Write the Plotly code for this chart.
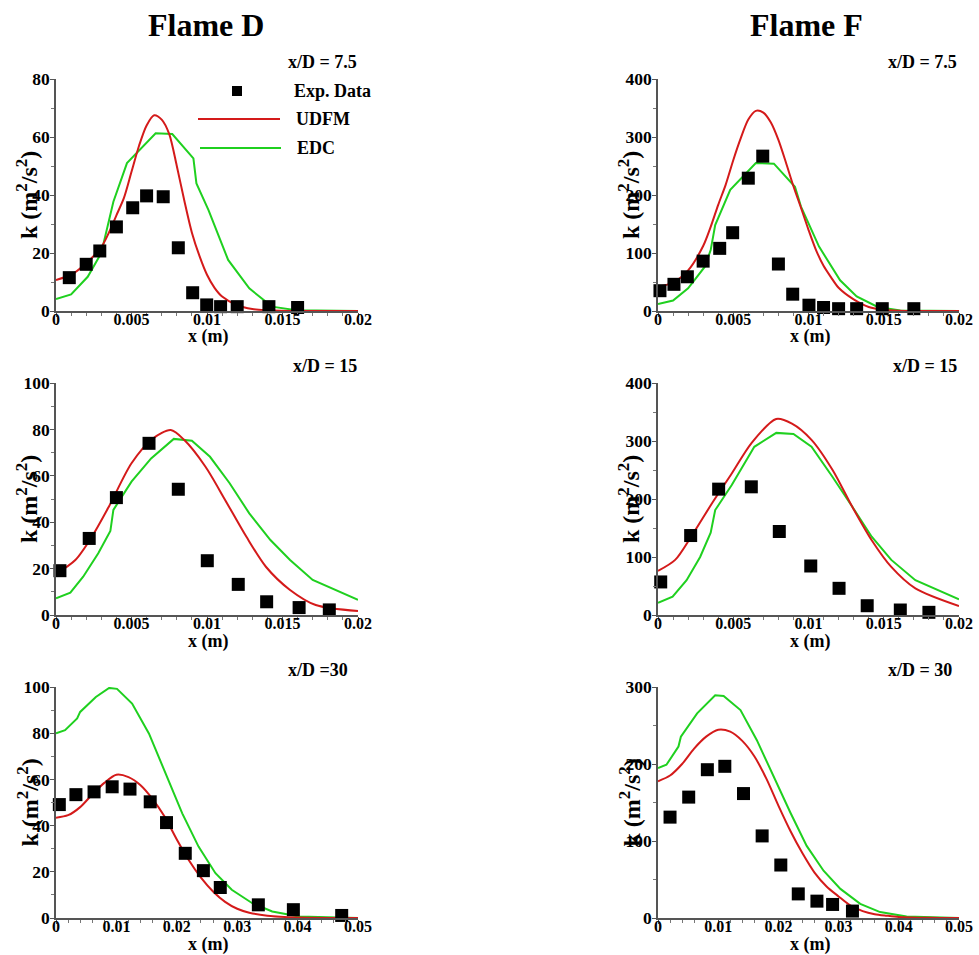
import plotly.graph_objects as go
from plotly.subplots import make_subplots

W, H = 979, 955
FONT = "Liberation Serif, Times New Roman, serif"
RED = "#d41a1a"
GREEN = "#1fd01f"

# ---------------- data ----------------
# Flame D, x/D = 7.5
d75_exp_x = [0.00088, 0.002, 0.0029, 0.004, 0.00508, 0.006, 0.0071, 0.0081, 0.00905, 0.00998, 0.0109, 0.012, 0.0141, 0.016]
d75_exp_k = [11.5, 16.1, 20.7, 29, 35.6, 39.7, 39.4, 21.8, 6.3, 2.1, 1.5, 1.5, 1.5, 1.2]
d75_udfm_x = [0, 0.001, 0.002, 0.003, 0.0035, 0.004, 0.0045, 0.005, 0.0055, 0.006, 0.0065, 0.007, 0.0075, 0.008, 0.0085, 0.009, 0.0095, 0.01, 0.0105, 0.011, 0.012, 0.013, 0.014, 0.016, 0.02]
d75_udfm_k = [10.7, 12.5, 16.5, 22, 27, 33, 39, 48, 57, 64, 67.5, 66, 61, 50, 38, 27, 19, 12.5, 8, 5, 2, 0.7, 0.3, 0, 0]
d75_edc_x = [0, 0.001, 0.0021, 0.003, 0.0038, 0.0047, 0.0066, 0.0077, 0.0091, 0.0093, 0.0101, 0.0114, 0.0128, 0.0143, 0.0159, 0.02]
d75_edc_k = [4.1, 5.7, 11.8, 20, 37.7, 51, 61.3, 61, 52.6, 44, 34.8, 17.6, 7.8, 1.5, 0.3, 0]

# Flame F, x/D = 7.5
f75_exp_x = [0.00013, 0.00106, 0.00195, 0.003, 0.0041, 0.00496, 0.006, 0.00696, 0.008, 0.00895, 0.01003, 0.011, 0.012, 0.0132, 0.0149, 0.017]
f75_exp_k = [35, 46, 59, 86, 108, 135, 229, 267, 81, 29, 10, 6, 4, 4, 4, 4]
f75_udfm_x = [0, 0.001, 0.002, 0.003, 0.0035, 0.004, 0.0045, 0.005, 0.0055, 0.006, 0.0065, 0.007, 0.0075, 0.008, 0.0085, 0.009, 0.0095, 0.01, 0.0105, 0.011, 0.0115, 0.012, 0.013, 0.014, 0.015, 0.016, 0.02]
f75_udfm_k = [42, 49, 70, 112, 145, 183, 218, 260, 298, 330, 345, 342, 325, 295, 256, 215, 178, 140, 105, 78, 58, 40, 20, 7, 2, 0.5, 0]
f75_edc_x = [0, 0.001, 0.002, 0.0031, 0.0035, 0.0038, 0.0048, 0.0065, 0.0077, 0.0091, 0.0095, 0.0107, 0.0121, 0.0132, 0.0146, 0.0161, 0.02]
f75_edc_k = [12, 18, 39, 76, 105, 148, 209, 255, 254, 214, 180, 111, 53, 25, 7, 1, 0]

# Flame D, x/D = 15
d15_exp_x = [0.00026, 0.0022, 0.004, 0.00616, 0.0081, 0.01002, 0.01207, 0.01395, 0.0161, 0.0181]
d15_exp_k = [19.1, 33, 50.6, 74, 54.2, 23.4, 13.2, 5.7, 3.2, 2.2]
d15_udfm_x = [0, 0.00128, 0.00238, 0.0035, 0.005, 0.0064, 0.0076, 0.0085, 0.0099, 0.0112, 0.0126, 0.0139, 0.0155, 0.0172, 0.02]
d15_udfm_k = [17.7, 23.7, 33.8, 46.7, 65.4, 76, 79.7, 75.4, 63.9, 49.6, 33.8, 20.8, 10.8, 4.3, 1.7]
d15_edc_x = [0, 0.00095, 0.0018, 0.0028, 0.0036, 0.0038, 0.005, 0.0063, 0.0078, 0.009, 0.0102, 0.0115, 0.0128, 0.0142, 0.0155, 0.017, 0.02]
d15_edc_k = [7.2, 9.6, 16.5, 26.6, 36.2, 45.3, 57.5, 67.5, 75.9, 75.1, 68.2, 56.8, 43.8, 32.3, 23.7, 15.1, 6.5]

# Flame F, x/D = 15
f15_exp_x = [0.00018, 0.00217, 0.00403, 0.0062, 0.00806, 0.01015, 0.01203, 0.0139, 0.0161, 0.018]
f15_exp_k = [57, 137, 217, 221, 144, 84.5, 46, 16, 8.6, 4.6]
f15_udfm_x = [0, 0.00114, 0.0022, 0.0036, 0.0049, 0.0062, 0.00785, 0.0089, 0.0102, 0.0116, 0.0129, 0.0142, 0.0155, 0.0171, 0.02]
f15_udfm_k = [76, 95, 135, 193, 244, 296, 338, 330, 302, 250, 187, 129, 83, 46, 15.5]
f15_edc_x = [0, 0.00097, 0.0019, 0.0028, 0.0035, 0.0038, 0.0049, 0.0064, 0.00786, 0.009, 0.0102, 0.0116, 0.0129, 0.0142, 0.0155, 0.0171, 0.02]
f15_edc_k = [21, 31.6, 60, 100, 142, 181, 224, 290, 314, 312, 290, 238, 187, 135, 95, 60, 27]

# Flame D, x/D = 30
d30_exp_x = [0.00055, 0.0033, 0.0063, 0.0093, 0.01225, 0.0156, 0.0183, 0.0214, 0.0244, 0.0272, 0.0335, 0.0393, 0.0473]
d30_exp_k = [49.1, 53.4, 54.6, 56.8, 55.8, 50.3, 41.3, 28, 20.5, 13.2, 5.7, 3.6, 1.1]
d30_udfm_x = [0, 0.002, 0.004, 0.006, 0.008, 0.01, 0.012, 0.014, 0.016, 0.018, 0.02, 0.022, 0.024, 0.026, 0.028, 0.03, 0.032, 0.035, 0.04, 0.05]
d30_udfm_k = [43.4, 44.5, 48, 53.5, 58.5, 62, 61, 57.5, 51.5, 43.8, 34, 25, 17.5, 11.5, 7, 4, 2.3, 1, 0.2, 0]
d30_edc_x = [0, 0.0015, 0.0035, 0.004, 0.0066, 0.0088, 0.0101, 0.0126, 0.0154, 0.0181, 0.0209, 0.0236, 0.0264, 0.0291, 0.0325, 0.0358, 0.0402, 0.05]
d30_edc_k = [80, 81.3, 86.4, 89.2, 95.7, 99.6, 99.2, 92.8, 79.8, 62.6, 45.3, 30.9, 19.4, 12.2, 6.4, 2.8, 0.7, 0]

# Flame F, x/D = 30
f30_exp_x = [0.002, 0.0051, 0.0082, 0.0111, 0.0142, 0.0173, 0.0204, 0.0233, 0.0264, 0.029, 0.0323]
f30_exp_k = [131, 157, 192.6, 197, 161.6, 106.6, 68.8, 31.3, 21.9, 17.6, 9]
f30_udfm_x = [0, 0.002, 0.004, 0.006, 0.008, 0.01, 0.012, 0.014, 0.016, 0.018, 0.02, 0.022, 0.024, 0.026, 0.028, 0.03, 0.032, 0.034, 0.036, 0.038, 0.04, 0.045, 0.05]
f30_udfm_k = [177.5, 185, 200, 220, 235.5, 244.5, 242, 230, 210, 181, 146, 113, 84, 59, 41, 28, 16, 9, 5, 3, 1.4, 0.3, 0]
f30_edc_x = [0, 0.0014, 0.0034, 0.0038, 0.0065, 0.0095, 0.0109, 0.0137, 0.0164, 0.0192, 0.022, 0.0247, 0.0275, 0.0303, 0.0336, 0.0369, 0.0413, 0.05]
f30_edc_k = [194.7, 199, 222.6, 235.5, 265.7, 289.3, 288.4, 270, 231.3, 184, 136.7, 93.6, 61.4, 37.8, 18.4, 7.7, 2, 0]

# tick labels
xticks_small = [0, 0.005, 0.01, 0.015, 0.02]
xticks_small_txt = ["0", "0.005", "0.01", "0.015", "0.02"]
xticks_large = [0, 0.01, 0.02, 0.03, 0.04, 0.05]
xticks_large_txt = ["0", "0.01", "0.02", "0.03", "0.04", "0.05"]

column_titles = ["Flame D", "Flame F"]
panel_titles = ["x/D = 7.5", "x/D = 7.5", "x/D = 15", "x/D = 15", "x/D =30", "x/D = 30"]
legend_names = ["Exp. Data", "UDFM", "EDC"]

panels = [
    (d75_exp_x, d75_exp_k, d75_udfm_x, d75_udfm_k, d75_edc_x, d75_edc_k, 80, 20, 10, "s"),
    (f75_exp_x, f75_exp_k, f75_udfm_x, f75_udfm_k, f75_edc_x, f75_edc_k, 400, 100, 50, "s"),
    (d15_exp_x, d15_exp_k, d15_udfm_x, d15_udfm_k, d15_edc_x, d15_edc_k, 100, 20, 10, "s"),
    (f15_exp_x, f15_exp_k, f15_udfm_x, f15_udfm_k, f15_edc_x, f15_edc_k, 400, 100, 50, "s"),
    (d30_exp_x, d30_exp_k, d30_udfm_x, d30_udfm_k, d30_edc_x, d30_edc_k, 100, 20, 10, "l"),
    (f30_exp_x, f30_exp_k, f30_udfm_x, f30_udfm_k, f30_edc_x, f30_edc_k, 300, 100, 50, "l"),
]

# ---------------- layout geometry (pixels) ----------------
def px(x):
    return x / W

def py(y):
    return 1 - y / H

col_px = [(56, 358), (658, 959)]
row_px = [(79, 311), (383, 615), (687, 918)]

fig = make_subplots(rows=3, cols=2)

for i, (ex, ek, ux, uk, gx, gk, ymax, ydt, ymn, xs) in enumerate(panels):
    r, c = i // 2 + 1, i % 2 + 1
    fig.add_trace(go.Scatter(x=gx, y=gk, mode="lines", line=dict(color=GREEN, width=2),
                             name=legend_names[2], showlegend=False), row=r, col=c)
    fig.add_trace(go.Scatter(x=ux, y=uk, mode="lines", line=dict(color=RED, width=2, shape="spline", smoothing=0.8),
                             name=legend_names[1], showlegend=False), row=r, col=c)
    fig.add_trace(go.Scatter(x=ex, y=ek, mode="markers", marker=dict(symbol="square", size=13, color="black"),
                             name=legend_names[0], showlegend=False, cliponaxis=False), row=r, col=c)
    if xs == "s":
        tv, tt, xmax, xmn = xticks_small, xticks_small_txt, 0.02, 0.001
    else:
        tv, tt, xmax, xmn = xticks_large, xticks_large_txt, 0.05, 0.002
    x0, x1 = col_px[c - 1]
    y0, y1 = row_px[r - 1]
    fig.update_xaxes(row=r, col=c, range=[0, xmax], domain=[px(x0), px(x1)], automargin=False,
                     tickvals=tv, ticktext=tt,
                     showline=True, linecolor="#555", linewidth=1.5, showgrid=False, zeroline=False,
                     ticks="outside", ticklen=4, tickcolor="#555", ticklabelstandoff=-11,
                     minor=dict(dtick=xmn, ticks="outside", ticklen=3, tickcolor="#777"),
                     tickfont=dict(family=FONT, size=16, color="black", weight="bold"))
    fig.update_yaxes(row=r, col=c, range=[0, ymax], domain=[py(y1), py(y0)], automargin=False,
                     dtick=ydt, tick0=0,
                     showline=True, linecolor="#555", linewidth=1.5, showgrid=False, zeroline=False,
                     ticks="outside", ticklen=4, tickcolor="#555", ticklabelstandoff=-3,
                     minor=dict(dtick=ymn, ticks="outside", ticklen=3, tickcolor="#777"),
                     tickfont=dict(family=FONT, size=17.5, color="black", weight="bold"))

annotations = []
shapes = []
# column titles
for c, t in enumerate(column_titles):
    cx = [206, 806][c]
    annotations.append(dict(text=t, x=px(cx), y=py(25), xref="paper", yref="paper",
                            showarrow=False, xanchor="center", yanchor="middle",
                            font=dict(family=FONT, size=32, color="black", weight="bold")))
# panel titles, axis titles
for i, t in enumerate(panel_titles):
    r, c = i // 2, i % 2
    x0, x1 = col_px[c]
    y0, y1 = row_px[r]
    right = [359, 959][c] if r < 2 else [350, 954][c]
    annotations.append(dict(text=t, x=px(right), y=py(y0 - 17), xref="paper", yref="paper",
                            showarrow=False, xanchor="right", yanchor="middle",
                            font=dict(family=FONT, size=18, color="black", weight="bold")))
    annotations.append(dict(text="k (m<sup>2</sup>/s<sup>2</sup>)", x=px(x0 - 29), y=py((y0 + y1) / 2),
                            xref="paper", yref="paper", textangle=-90,
                            showarrow=False, xanchor="center", yanchor="middle",
                            font=dict(family=FONT, size=24, color="black", weight="bold")))
    annotations.append(dict(text="x (m)", x=px((x0 + x1) / 2 + 1), y=py(y1 + 26), xref="paper", yref="paper",
                            showarrow=False, xanchor="center", yanchor="middle",
                            font=dict(family=FONT, size=18, color="black", weight="bold")))

# legend (top-left panel)
shapes.append(dict(type="rect", xref="paper", yref="paper", x0=px(232), x1=px(242), y0=py(96), y1=py(86),
                   fillcolor="black", line=dict(width=0)))
shapes.append(dict(type="line", xref="paper", yref="paper", x0=px(198), x1=px(280), y0=py(119), y1=py(119),
                   line=dict(color=RED, width=2)))
shapes.append(dict(type="line", xref="paper", yref="paper", x0=px(200), x1=px(281), y0=py(148), y1=py(148),
                   line=dict(color=GREEN, width=2)))
for name, lx, ly in zip(legend_names, [292, 294, 295], [91, 119, 148]):
    annotations.append(dict(text=name, x=px(lx), y=py(ly), xref="paper", yref="paper",
                            showarrow=False, xanchor="left", yanchor="middle",
                            font=dict(family=FONT, size=18, color="black", weight="bold")))

fig.update_layout(width=W, height=H, margin=dict(l=0, r=0, t=0, b=0, pad=0, autoexpand=False),
                  paper_bgcolor="white", plot_bgcolor="white",
                  annotations=annotations, shapes=shapes, showlegend=False)

fig.write_html("out.html")
